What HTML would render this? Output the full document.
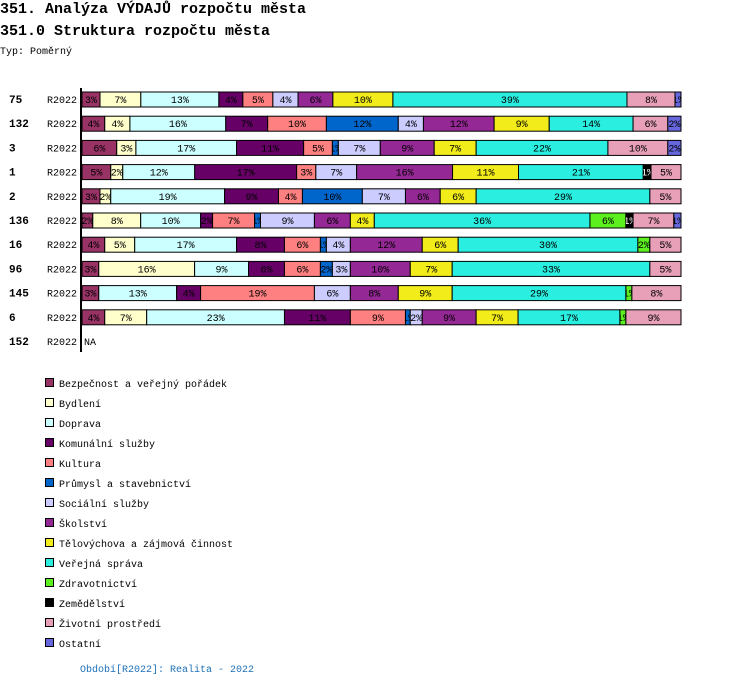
<!DOCTYPE html>
<html><head><meta charset="utf-8"><style>
body{margin:0;background:#fff;width:750px;height:686px;overflow:hidden}
svg text{font-family:"Liberation Mono","DejaVu Sans Mono",monospace}
</style></head><body>
<svg id="chart" width="750" height="686">
<text x="0" y="13" font-size="15" font-weight="bold">351. Analýza VÝDAJŮ rozpočtu města</text>
<text x="0" y="35" font-size="15" font-weight="bold">351.0 Struktura rozpočtu města</text>
<text x="0" y="54" font-size="10">Typ: Poměrný</text>
<line x1="81" y1="88" x2="81" y2="352" stroke="#000" stroke-width="2"/>
<g id="bars"></g>
<g id="legend"></g>
<text x="80" y="672" font-size="10" fill="#1c6fb8">Období[R2022]: Realita - 2022</text>
</svg>
<script>
const categories=["Bezpečnost a veřejný pořádek","Bydlení","Doprava","Komunální služby","Kultura","Průmysl a stavebnictví","Sociální služby","Školství","Tělovýchova a zájmová činnost","Veřejná správa","Zdravotnictví","Zemědělství","Životní prostředí","Ostatní"];
const colors=["#993366","#ffffcc","#ccffff","#660066","#ff8080","#0066cc","#ccccff","#942894","#f2ec1a","#2aeee0","#5cf01e","#000000","#e8a0b8","#6666dd"];
const rowIds=["75","132","3","1","2","136","16","96","145","6","152"];
const rowPeriod="R2022";
// values per category (order as categories), 0 = absent, null row = NA
const row75=[3,6.8,13,4,5,0,4.2,5.8,10,39,0,0,8,1];
const row132=[3.8,4.2,16,7,9.8,12,4.2,11.8,9.2,14,0,0,5.8,2.2];
const row3=[5.8,3.2,16.8,11.2,4.8,1,7,9,7,22,0,0,10,2.2];
const row1=[4.8,2,12,17,3.2,0,6.8,16,11,20.8,0,1.3,5,0];
const row2=[3,1.8,19,9,4,10,7.2,5.8,6,29,0,0,5.2,0];
const row136=[1.8,8,10,2,7,1,9,6,4,36,6,1.2,6.8,1.2];
const row16=[3.8,5,17,8,6,1,4,12,6,30,2,0,5.2,0];
const row96=[2.8,16,9,6,6,2,3,10,7,33,0,0,5.2,0];
const row145=[2.8,0,13,4,19,0,6,8,9,29,1,0,8.2,0];
const row6=[3.8,7,23,11,9.2,0.8,2,9,7,17,1,0,9.2,0];
const row152=null;
const rows=[row75,row132,row3,row1,row2,row136,row16,row96,row145,row6,row152];

const NS="http://www.w3.org/2000/svg";
const x0=82,plotW=599,rowTop=92,rowStep=24.2,barH=15;
const bars=document.getElementById("bars");
function mk(t,a,p){const e=document.createElementNS(NS,t);for(const k in a)e.setAttribute(k,a[k]);p.appendChild(e);return e;}
function xs(frac){return x0+frac*plotW;}
rows.forEach((vals,ri)=>{
  const y=rowTop+ri*rowStep;
  const id=mk("text",{x:9,y:y+11,"font-size":11,"font-weight":"bold"},bars);
  id.textContent=rowIds[ri];
  
  
  const per=mk("text",{x:47,y:y+11,"font-size":10},bars);
  per.textContent=rowPeriod;
  
  
  if(!vals){const na=mk("text",{x:84,y:y+11,"font-size":10},bars);na.textContent="NA";
    
    return;}
  const tot=vals.reduce((a,b)=>a+b,0);let cum=0;
  vals.forEach((v,ci)=>{
    if(!v)return;
    const xa=xs(cum/tot),xb=xs((cum+v)/tot);cum+=v;
    const r=mk("rect",{x:xa,y:y,width:xb-xa,height:barH,fill:colors[ci],stroke:"#000","stroke-width":1},bars);
    
    
    const cid="c"+ri+"_"+ci;
    const cp=mk("clipPath",{id:cid},bars);mk("rect",{x:xa,y:y,width:xb-xa,height:barH},cp);
    const t=mk("text",{x:(xa+xb)/2,y:y+11,"font-size":10,"text-anchor":"middle",fill:ci==11?"#fff":"#000","clip-path":"url(#"+cid+")"},bars);
    t.textContent=Math.round(v)+"%";
    
    
  });
});
const lg=document.getElementById("legend");
categories.forEach((c,i)=>{
  const y=383+i*20;
  const s=mk("rect",{x:45.5,y:y-4.5,width:8,height:8,fill:colors[i],stroke:"#000","stroke-width":1},lg);
  
  
  const t=mk("text",{x:59,y:y+4,"font-size":10},lg);t.textContent=c;
  
  
});
</script>
</body></html>
